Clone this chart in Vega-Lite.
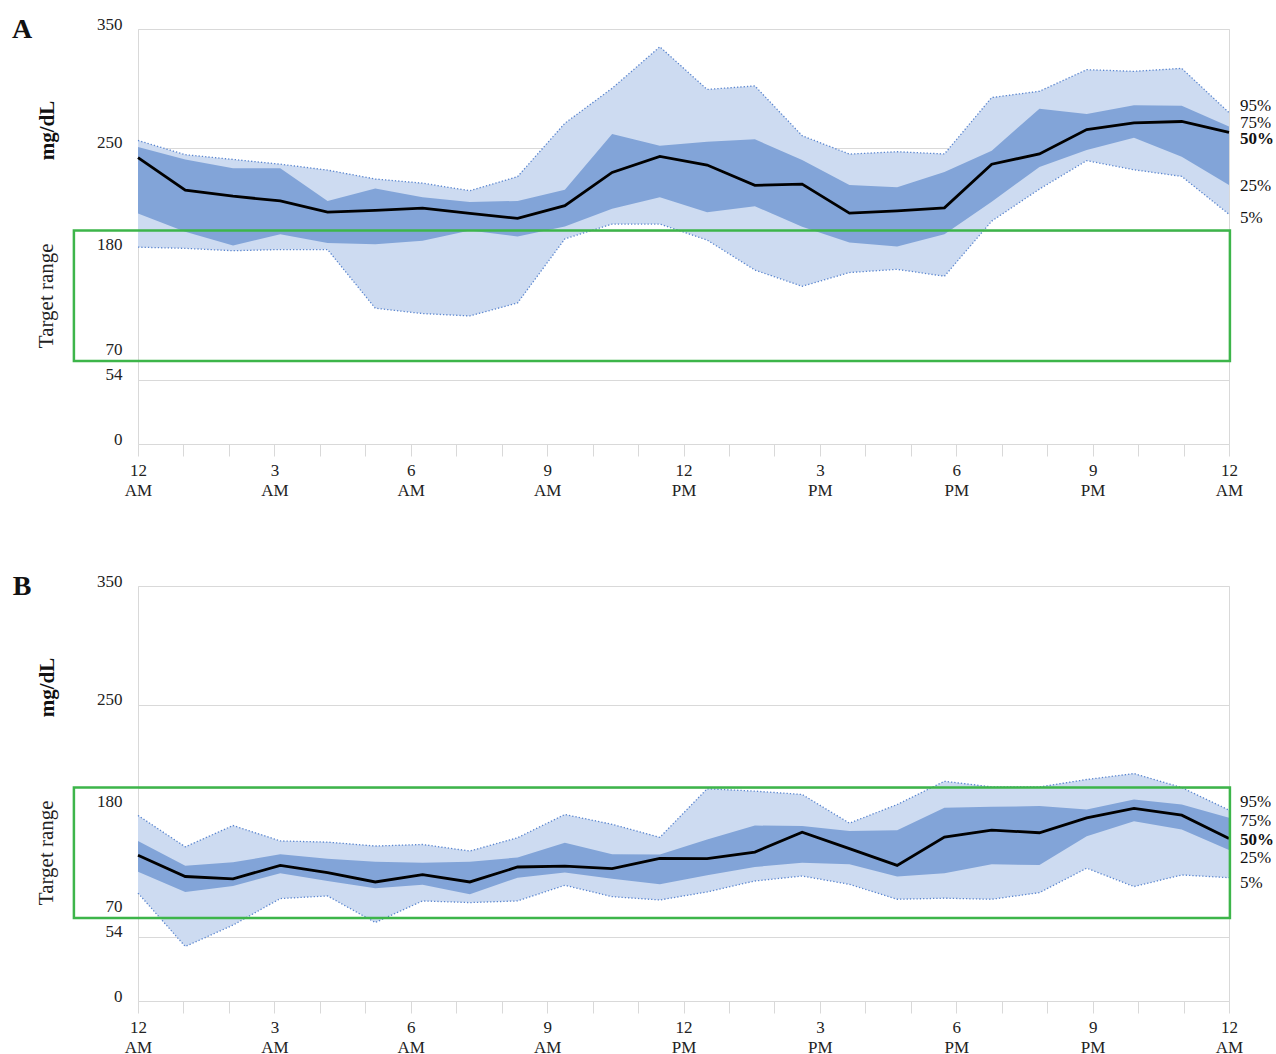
{
  "$schema": "https://vega.github.io/schema/vega-lite/v6.json",
  "background": "white",
  "padding": {"left": 11, "top": 14, "right": 2, "bottom": 2},
  "spacing": 72,
  "config": {
    "font": "Liberation Serif",
    "axis": {"labelFont": "Liberation Serif", "titleFont": "Liberation Serif"},
    "text": {"font": "Liberation Serif"},
    "view": {"stroke": "#d9d9d9", "strokeWidth": 1}
  },
  "datasets": {
    "agp": [
      {"panel":"A","t":0,"p5":166,"p25":194.5,"p50":241.5,"p75":250.5,"p95":256},
      {"panel":"A","t":1.04,"p5":165,"p25":179,"p50":214,"p75":240,"p95":244},
      {"panel":"A","t":2.09,"p5":163,"p25":167.5,"p50":209,"p75":232.5,"p95":240},
      {"panel":"A","t":3.13,"p5":164,"p25":177,"p50":205,"p75":232.5,"p95":236},
      {"panel":"A","t":4.17,"p5":164,"p25":169.5,"p50":195.5,"p75":205,"p95":231},
      {"panel":"A","t":5.22,"p5":114.5,"p25":168.5,"p50":197,"p75":215.5,"p95":223.5},
      {"panel":"A","t":6.26,"p5":110,"p25":171.5,"p50":199,"p75":208,"p95":220},
      {"panel":"A","t":7.3,"p5":108,"p25":180,"p50":194.5,"p75":204,"p95":213.6},
      {"panel":"A","t":8.35,"p5":119,"p25":175,"p50":190.3,"p75":205,"p95":225.5},
      {"panel":"A","t":9.39,"p5":173,"p25":183.4,"p50":201,"p75":214.5,"p95":270.5},
      {"panel":"A","t":10.43,"p5":185.5,"p25":198.5,"p50":229,"p75":261.5,"p95":300},
      {"panel":"A","t":11.48,"p5":185.5,"p25":208,"p50":242.5,"p75":251.5,"p95":335},
      {"panel":"A","t":12.52,"p5":172,"p25":195.5,"p50":235.3,"p75":255,"p95":299},
      {"panel":"A","t":13.57,"p5":146.7,"p25":200.5,"p50":218.2,"p75":257,"p95":302},
      {"panel":"A","t":14.61,"p5":133,"p25":183.3,"p50":219.2,"p75":239.5,"p95":260},
      {"panel":"A","t":15.65,"p5":144.6,"p25":170,"p50":194.7,"p75":218.4,"p95":244.5},
      {"panel":"A","t":16.7,"p5":147.3,"p25":166.6,"p50":196.6,"p75":216.5,"p95":246.5},
      {"panel":"A","t":17.74,"p5":141.5,"p25":176.8,"p50":199.2,"p75":229.5,"p95":244.6},
      {"panel":"A","t":18.78,"p5":188,"p25":204.4,"p50":236,"p75":247.3,"p95":292.2},
      {"panel":"A","t":19.83,"p5":215,"p25":233.7,"p50":244.6,"p75":282.8,"p95":297.5},
      {"panel":"A","t":20.87,"p5":239,"p25":248,"p50":265.2,"p75":278.3,"p95":315.7},
      {"panel":"A","t":21.91,"p5":231.3,"p25":258.2,"p50":270.8,"p75":285.6,"p95":314.3},
      {"panel":"A","t":22.96,"p5":225.7,"p25":242.3,"p50":272,"p75":285.2,"p95":316.8},
      {"panel":"A","t":24,"p5":193.7,"p25":218.4,"p50":262.9,"p75":267.8,"p95":279.5},
      {"panel":"B","t":0,"p5":91,"p25":109,"p50":123,"p75":135,"p95":156.5},
      {"panel":"B","t":1.04,"p5":46,"p25":92,"p50":105,"p75":114,"p95":130},
      {"panel":"B","t":2.09,"p5":64,"p25":97,"p50":103,"p75":117,"p95":148},
      {"panel":"B","t":3.13,"p5":86.4,"p25":107.7,"p50":114.4,"p75":123.7,"p95":135},
      {"panel":"B","t":4.17,"p5":88.6,"p25":101.2,"p50":108.3,"p75":120,"p95":134},
      {"panel":"B","t":5.22,"p5":66.2,"p25":95.1,"p50":100.4,"p75":117.5,"p95":130.7},
      {"panel":"B","t":6.26,"p5":84.4,"p25":98,"p50":106.6,"p75":116.7,"p95":132},
      {"panel":"B","t":7.3,"p5":83,"p25":90,"p50":100.4,"p75":117.5,"p95":126.5},
      {"panel":"B","t":8.35,"p5":84.4,"p25":104,"p50":113,"p75":121,"p95":137.7},
      {"panel":"B","t":9.39,"p5":97.6,"p25":108.3,"p50":113.8,"p75":133.5,"p95":157.3},
      {"panel":"B","t":10.43,"p5":88,"p25":103.2,"p50":111.6,"p75":123.7,"p95":149},
      {"panel":"B","t":11.48,"p5":85.2,"p25":98.4,"p50":120.3,"p75":123.5,"p95":138},
      {"panel":"B","t":12.52,"p5":92,"p25":106,"p50":120,"p75":136.3,"p95":179},
      {"panel":"B","t":13.57,"p5":101.2,"p25":113,"p50":125.6,"p75":148,"p95":177},
      {"panel":"B","t":14.61,"p5":105.4,"p25":116.7,"p50":142.4,"p75":147.5,"p95":174.2},
      {"panel":"B","t":15.65,"p5":98.4,"p25":115.3,"p50":128.5,"p75":143.3,"p95":150},
      {"panel":"B","t":16.7,"p5":85.8,"p25":105,"p50":114.4,"p75":144,"p95":165.7},
      {"panel":"B","t":17.74,"p5":86.7,"p25":107.7,"p50":138.3,"p75":163,"p95":185.3},
      {"panel":"B","t":18.78,"p5":85.8,"p25":115.3,"p50":144.1,"p75":163.8,"p95":180.6},
      {"panel":"B","t":19.83,"p5":91.4,"p25":114.7,"p50":141.9,"p75":164.4,"p95":180.6},
      {"panel":"B","t":20.87,"p5":112,"p25":139,"p50":154.5,"p75":161.5,"p95":186.8},
      {"panel":"B","t":21.91,"p5":96.5,"p25":151.7,"p50":162.4,"p75":170,"p95":191.8},
      {"panel":"B","t":22.96,"p5":106.3,"p25":144.7,"p50":156.7,"p75":165.7,"p95":180},
      {"panel":"B","t":24,"p5":104,"p25":127.3,"p50":137,"p75":154.5,"p95":161}
    ],
    "pct": [
      {"panel":"A","label":"95%","v":285},
      {"panel":"A","label":"75%","v":271},
      {"panel":"A","label":"50%","v":257},
      {"panel":"A","label":"25%","v":218},
      {"panel":"A","label":"5%","v":190.5},
      {"panel":"B","label":"95%","v":167.5},
      {"panel":"B","label":"75%","v":152},
      {"panel":"B","label":"50%","v":135.5},
      {"panel":"B","label":"25%","v":121},
      {"panel":"B","label":"5%","v":99.9}
    ]
  },
  "vconcat": [
    {
      "width": 1091, "height": 415,
      "data": {"name": "agp"},
      "transform": [{"filter": "datum.panel == 'A'"}],
      "layer": [
        {
          "mark": {"type": "area", "color": "#cddbf1", "opacity": 1},
          "encoding": {
            "x": {"field": "t", "type": "quantitative",
              "scale": {"domain": [0, 24], "nice": false, "zero": false},
              "axis": {"values": [0,1,2,3,4,5,6,7,8,9,10,11,12,13,14,15,16,17,18,19,20,21,22,23,24],
                "labelExpr": "datum.value % 3 != 0 ? '' : [(datum.value % 12 == 0 ? '12' : '' + (datum.value % 12)), (datum.value % 24 < 12 ? 'AM' : 'PM')]",
                "title": null, "grid": false, "domain": false, "ticks": true, "tickSize": 12, "tickColor": "#d9d9d9",
                "labelFont": "Liberation Serif", "labelFontSize": 17, "labelColor": "#222222", "labelPadding": 6, "labelLineHeight": 20,
                "labelOverlap": false, "labelFlush": false, "labelBaseline": "top", "labelAlign": "center"}},
            "y": {"field": "p5", "type": "quantitative",
              "scale": {"domain": [0, 350], "nice": false, "zero": true},
              "axis": {"values": [0, 54, 70, 180, 250, 350], "title": "mg/dL", "titleFont": "Liberation Serif", "titleFontWeight": "bold", "titleFontSize": 21,
                "titleX": -91, "titleY": 101, "titleAngle": 270, "titleAlign": "center", "titleBaseline": "middle", "titleColor": "#111111",
                "grid": true, "gridColor": "#d9d9d9", "domain": false, "ticks": false, "labelPadding": 16,
                "labelFont": "Liberation Serif", "labelFontSize": 17, "labelColor": "#222222", "labelBaseline": "alphabetic",
                "labelOffset": {"condition": [{"test": "datum.value == 180", "value": 19}, {"test": "datum.value == 70", "value": -7}], "value": 0}}},
            "y2": {"field": "p95"}
          }
        },
        {
          "mark": {"type": "area", "color": "#82a4d8", "opacity": 1},
          "encoding": {
            "x": {"field": "t", "type": "quantitative"},
            "y": {"field": "p25", "type": "quantitative"},
            "y2": {"field": "p75"}
          }
        },
        {
          "mark": {"type": "line", "color": "#5b86cf", "strokeWidth": 1.3, "strokeDash": [1.3, 2]},
          "encoding": {"x": {"field": "t", "type": "quantitative"}, "y": {"field": "p95", "type": "quantitative"}}
        },
        {
          "mark": {"type": "line", "color": "#5b86cf", "strokeWidth": 1.3, "strokeDash": [1.3, 2]},
          "encoding": {"x": {"field": "t", "type": "quantitative"}, "y": {"field": "p5", "type": "quantitative"}}
        },
        {
          "mark": {"type": "line", "color": "#000000", "strokeWidth": 2.8},
          "encoding": {"x": {"field": "t", "type": "quantitative"}, "y": {"field": "p50", "type": "quantitative"}}
        },
        {
          "data": {"values": [{}]},
          "mark": {"type": "rect", "fill": null, "fillOpacity": 0, "stroke": "#3db54a", "strokeWidth": 2.5},
          "encoding": {
            "x": {"datum": -1.41, "type": "quantitative"}, "x2": {"datum": 24.02},
            "y": {"datum": 70, "type": "quantitative"}, "y2": {"datum": 180}
          }
        },
        {
          "data": {"values": [{}]},
          "mark": {"type": "text", "text": "Target range", "font": "Liberation Serif", "angle": 270, "fontSize": 21, "align": "center", "baseline": "middle", "color": "#222222"},
          "encoding": {"x": {"datum": -2.0, "type": "quantitative"}, "y": {"datum": 125, "type": "quantitative"}}
        },
        {
          "data": {"values": [{}]},
          "mark": {"type": "text", "text": "A", "font": "Liberation Serif", "fontSize": 28, "fontWeight": "bold", "align": "center", "baseline": "middle", "color": "#111111"},
          "encoding": {"x": {"datum": -2.55, "type": "quantitative"}, "y": {"datum": 349, "type": "quantitative"}}
        },
        {
          "data": {"name": "pct"},
          "transform": [{"filter": "datum.panel == 'A' && datum.label != '50%'"}],
          "mark": {"type": "text", "font": "Liberation Serif", "align": "left", "baseline": "middle", "dx": 11, "fontSize": 17, "color": "#111111"},
          "encoding": {
            "x": {"datum": 24, "type": "quantitative"},
            "y": {"field": "v", "type": "quantitative"},
            "text": {"field": "label"}
          }
        },
        {
          "data": {"name": "pct"},
          "transform": [{"filter": "datum.panel == 'A' && datum.label == '50%'"}],
          "mark": {"type": "text", "font": "Liberation Serif", "fontWeight": "bold", "align": "left", "baseline": "middle", "dx": 11, "fontSize": 17, "color": "#111111"},
          "encoding": {
            "x": {"datum": 24, "type": "quantitative"},
            "y": {"field": "v", "type": "quantitative"},
            "text": {"field": "label"}
          }
        }
      ]
    },
    {
      "width": 1091, "height": 415,
      "data": {"name": "agp"},
      "transform": [{"filter": "datum.panel == 'B'"}],
      "layer": [
        {
          "mark": {"type": "area", "color": "#cddbf1", "opacity": 1},
          "encoding": {
            "x": {"field": "t", "type": "quantitative",
              "scale": {"domain": [0, 24], "nice": false, "zero": false},
              "axis": {"values": [0,1,2,3,4,5,6,7,8,9,10,11,12,13,14,15,16,17,18,19,20,21,22,23,24],
                "labelExpr": "datum.value % 3 != 0 ? '' : [(datum.value % 12 == 0 ? '12' : '' + (datum.value % 12)), (datum.value % 24 < 12 ? 'AM' : 'PM')]",
                "title": null, "grid": false, "domain": false, "ticks": true, "tickSize": 12, "tickColor": "#d9d9d9",
                "labelFont": "Liberation Serif", "labelFontSize": 17, "labelColor": "#222222", "labelPadding": 6, "labelLineHeight": 20,
                "labelOverlap": false, "labelFlush": false, "labelBaseline": "top", "labelAlign": "center"}},
            "y": {"field": "p5", "type": "quantitative",
              "scale": {"domain": [0, 350], "nice": false, "zero": true},
              "axis": {"values": [0, 54, 70, 180, 250, 350], "title": "mg/dL", "titleFont": "Liberation Serif", "titleFontWeight": "bold", "titleFontSize": 21,
                "titleX": -91, "titleY": 101, "titleAngle": 270, "titleAlign": "center", "titleBaseline": "middle", "titleColor": "#111111",
                "grid": true, "gridColor": "#d9d9d9", "domain": false, "ticks": false, "labelPadding": 16,
                "labelFont": "Liberation Serif", "labelFontSize": 17, "labelColor": "#222222", "labelBaseline": "alphabetic",
                "labelOffset": {"condition": [{"test": "datum.value == 180", "value": 19}, {"test": "datum.value == 70", "value": -7}], "value": 0}}},
            "y2": {"field": "p95"}
          }
        },
        {
          "mark": {"type": "area", "color": "#82a4d8", "opacity": 1},
          "encoding": {
            "x": {"field": "t", "type": "quantitative"},
            "y": {"field": "p25", "type": "quantitative"},
            "y2": {"field": "p75"}
          }
        },
        {
          "mark": {"type": "line", "color": "#5b86cf", "strokeWidth": 1.3, "strokeDash": [1.3, 2]},
          "encoding": {"x": {"field": "t", "type": "quantitative"}, "y": {"field": "p95", "type": "quantitative"}}
        },
        {
          "mark": {"type": "line", "color": "#5b86cf", "strokeWidth": 1.3, "strokeDash": [1.3, 2]},
          "encoding": {"x": {"field": "t", "type": "quantitative"}, "y": {"field": "p5", "type": "quantitative"}}
        },
        {
          "mark": {"type": "line", "color": "#000000", "strokeWidth": 2.8},
          "encoding": {"x": {"field": "t", "type": "quantitative"}, "y": {"field": "p50", "type": "quantitative"}}
        },
        {
          "data": {"values": [{}]},
          "mark": {"type": "rect", "fill": null, "fillOpacity": 0, "stroke": "#3db54a", "strokeWidth": 2.5},
          "encoding": {
            "x": {"datum": -1.41, "type": "quantitative"}, "x2": {"datum": 24.02},
            "y": {"datum": 70, "type": "quantitative"}, "y2": {"datum": 180}
          }
        },
        {
          "data": {"values": [{}]},
          "mark": {"type": "text", "text": "Target range", "font": "Liberation Serif", "angle": 270, "fontSize": 21, "align": "center", "baseline": "middle", "color": "#222222"},
          "encoding": {"x": {"datum": -2.0, "type": "quantitative"}, "y": {"datum": 125, "type": "quantitative"}}
        },
        {
          "data": {"values": [{}]},
          "mark": {"type": "text", "text": "B", "font": "Liberation Serif", "fontSize": 28, "fontWeight": "bold", "align": "center", "baseline": "middle", "color": "#111111"},
          "encoding": {"x": {"datum": -2.55, "type": "quantitative"}, "y": {"datum": 349, "type": "quantitative"}}
        },
        {
          "data": {"name": "pct"},
          "transform": [{"filter": "datum.panel == 'B' && datum.label != '50%'"}],
          "mark": {"type": "text", "font": "Liberation Serif", "align": "left", "baseline": "middle", "dx": 11, "fontSize": 17, "color": "#111111"},
          "encoding": {
            "x": {"datum": 24, "type": "quantitative"},
            "y": {"field": "v", "type": "quantitative"},
            "text": {"field": "label"}
          }
        },
        {
          "data": {"name": "pct"},
          "transform": [{"filter": "datum.panel == 'B' && datum.label == '50%'"}],
          "mark": {"type": "text", "font": "Liberation Serif", "fontWeight": "bold", "align": "left", "baseline": "middle", "dx": 11, "fontSize": 17, "color": "#111111"},
          "encoding": {
            "x": {"datum": 24, "type": "quantitative"},
            "y": {"field": "v", "type": "quantitative"},
            "text": {"field": "label"}
          }
        }
      ]
    }
  ]
}
